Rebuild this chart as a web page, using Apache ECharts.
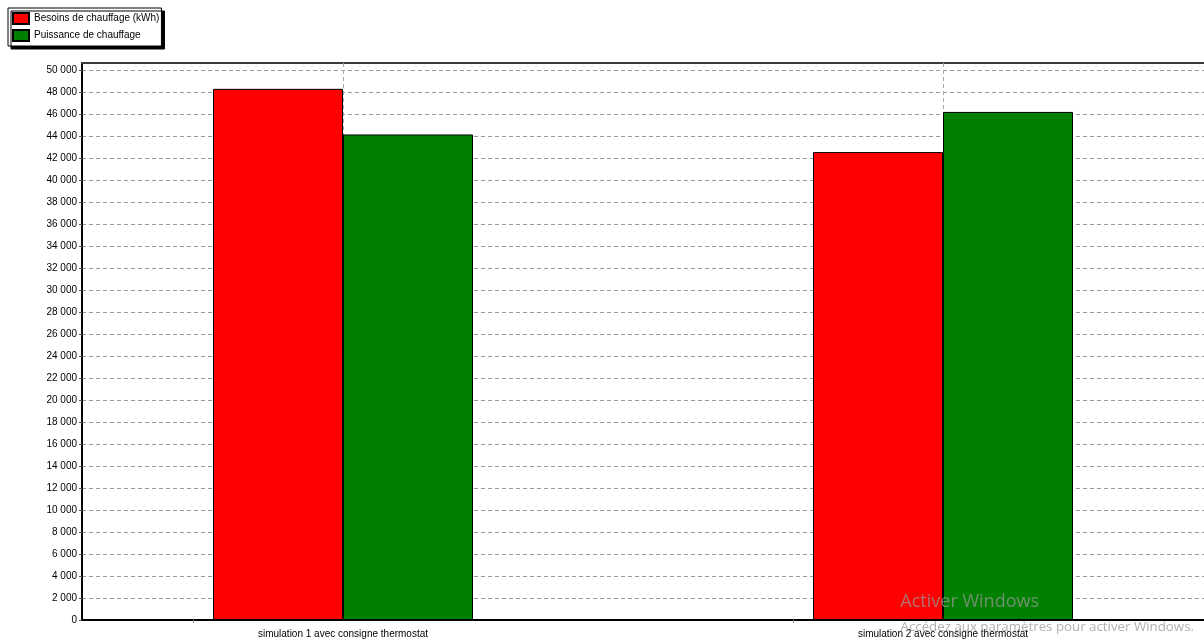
<!DOCTYPE html>
<html>
<head>
<meta charset="utf-8">
<script src="https://cdn.jsdelivr.net/npm/echarts@6/dist/echarts.min.js"></script>
<style>
  html, body { margin: 0; padding: 0; background: #fff; }
  #chart { width: 1204px; height: 643px; }
</style>
</head>
<body>
<div id="chart"></div>
<script>
// Scenarios compared
const categories = ['simulation 1 avec consigne thermostat', 'simulation 2 avec consigne thermostat'];
// Heating demand and heating power per scenario
const besoins = [48300, 42550];
const puissance = [44150, 46200];
const seriesNames = ['Besoins de chauffage (kWh)', 'Puissance de chauffage'];
// Value axis ticks
const yMin = 0;
const yMax = 50650;
const yStep = 2000;

const FONT = '"Liberation Sans", Arial, sans-serif';

function fmtThousands(v) {
  return String(v).replace(/\B(?=(\d{3})+(?!\d))/g, ' ');
}

// Categories sit at positions 0, 1, ... on a value axis so the plot can
// extend past the last category.
const catIdx = categories.map((_, i) => i);
const xRange = [-0.435, categories.length - 1 + 0.435];

const chart = echarts.init(document.getElementById('chart'), null, { renderer: 'canvas' });

chart.setOption({
  animation: false,
  backgroundColor: '#ffffff',
  textStyle: { fontFamily: FONT },
  legend: {
    orient: 'vertical',
    left: 8,
    top: 8,
    padding: [4, 2, 4, 4],
    itemWidth: 16,
    itemHeight: 11,
    itemGap: 4,
    icon: 'rect',
    backgroundColor: '#ffffff',
    borderColor: '#000000',
    borderWidth: 1,
    shadowColor: '#000000',
    shadowBlur: 0,
    shadowOffsetX: 3,
    shadowOffsetY: 3,
    textStyle: { fontFamily: FONT, fontSize: 10, lineHeight: 11, color: '#000' },
    selectedMode: false,
    data: seriesNames
  },
  grid: { left: 82, right: 0, top: 63, bottom: 23, containLabel: false },
  xAxis: [
    {
      type: 'value',
      position: 'bottom',
      min: xRange[0],
      max: xRange[1],
      axisLine: { show: true, onZero: false, lineStyle: { color: '#000', width: 2 } },
      axisTick: {
        show: true,
        length: 3,
        inside: false,
        customValues: catIdx.map(i => i - 0.25),
        lineStyle: { color: '#888' }
      },
      axisLabel: {
        show: true,
        customValues: catIdx,
        formatter: v => categories[Math.round(v)] || '',
        fontFamily: FONT,
        fontSize: 10,
        color: '#000',
        margin: 9
      },
      splitLine: { show: false }
    },
    {
      type: 'value',
      position: 'top',
      min: xRange[0],
      max: xRange[1],
      axisLine: { show: true, onZero: false, lineStyle: { color: '#3a3a3a', width: 2 } },
      axisTick: { show: false },
      axisLabel: { show: false },
      splitLine: { show: false }
    }
  ],
  yAxis: {
    type: 'value',
    min: yMin,
    max: yMax,
    interval: yStep,
    axisLine: { show: true, onZero: false, lineStyle: { color: '#000', width: 2 } },
    axisTick: { show: true, length: 3, lineStyle: { color: '#555' } },
    axisLabel: {
      showMaxLabel: false,
      formatter: v => fmtThousands(v),
      fontFamily: FONT,
      fontSize: 10,
      color: '#000',
      margin: 5
    },
    splitLine: {
      show: true,
      lineStyle: { color: '#9a9a9a', type: [4, 3], width: 1 }
    }
  },
  series: [
    {
      name: seriesNames[0],
      type: 'bar',
      xAxisIndex: 0,
      barWidth: 130,
      barGap: '0%',
      itemStyle: { color: '#ff0000', borderColor: '#000', borderWidth: 1 },
      data: catIdx.map(i => [i, besoins[i]])
    },
    {
      name: seriesNames[1],
      type: 'bar',
      xAxisIndex: 0,
      barWidth: 130,
      barGap: '0%',
      itemStyle: { color: '#008000', borderColor: '#000', borderWidth: 1 },
      data: catIdx.map(i => [i, puissance[i]])
    },
    {
      // vertical dashed guides through each category centre
      name: 'guides',
      type: 'scatter',
      xAxisIndex: 0,
      data: [],
      z: 1,
      markLine: {
        silent: true,
        symbol: 'none',
        z: 1,
        label: { show: false },
        lineStyle: { color: '#a8a8a8', type: [4, 3], width: 1 },
        data: catIdx.map(i => ({ xAxis: i }))
      }
    }
  ],
  graphic: [
    {
      type: 'text',
      right: 165,
      bottom: 32,
      z: 100,
      style: {
        text: 'Activer Windows',
        fontFamily: '"Open Sans", "Noto Sans", sans-serif',
        fontSize: 18,
        fill: 'rgba(150,150,150,0.75)'
      }
    },
    {
      type: 'text',
      right: 10,
      bottom: 9,
      z: 100,
      style: {
        text: 'Accédez aux paramètres pour activer Windows.',
        fontFamily: '"Open Sans", "Noto Sans", sans-serif',
        fontSize: 13.3,
        fill: 'rgba(150,150,150,0.75)'
      }
    }
  ]
});
</script>
</body>
</html>
